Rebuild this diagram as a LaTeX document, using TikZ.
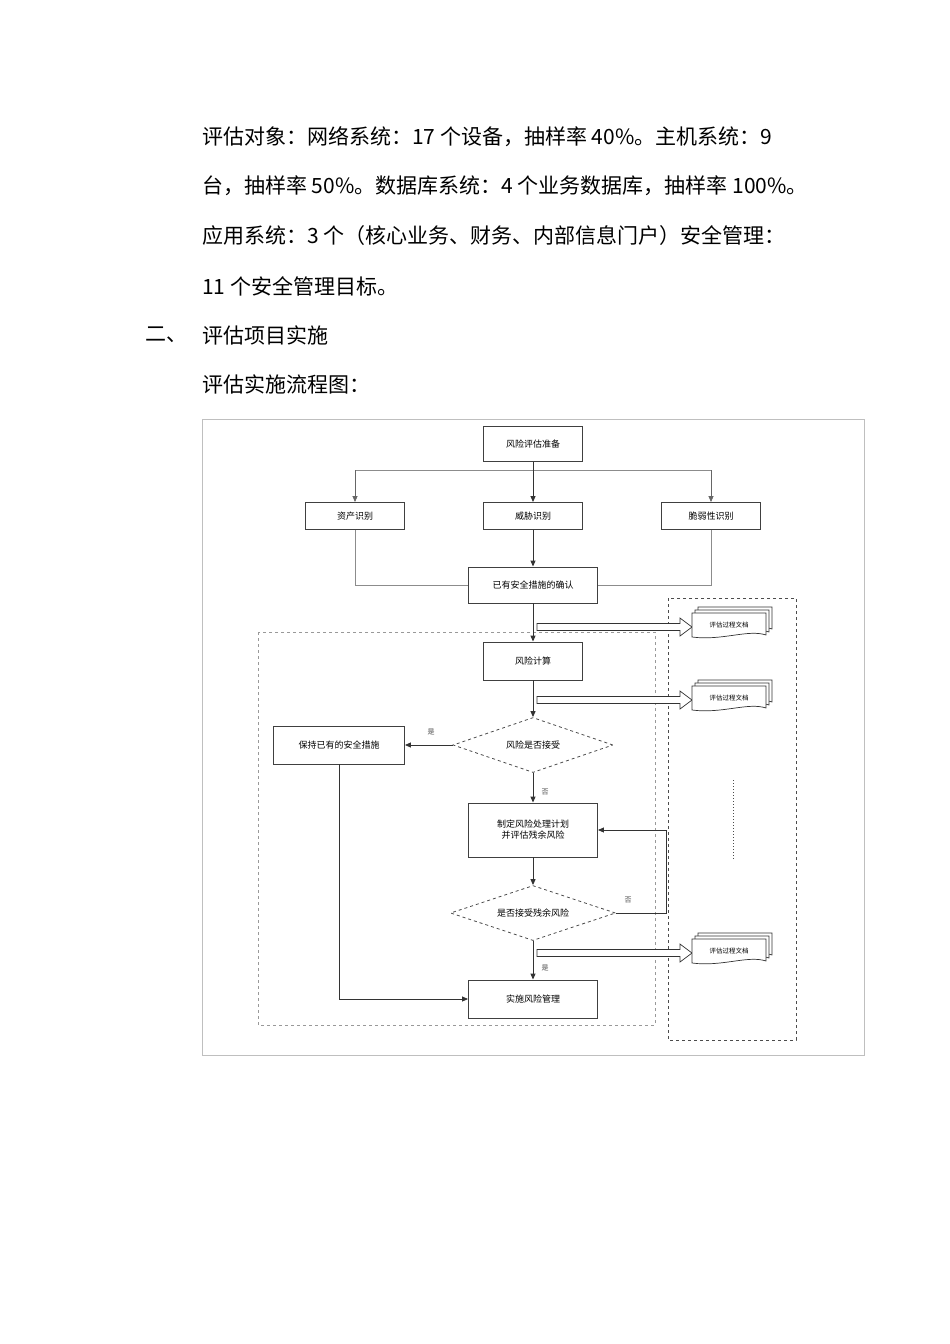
\documentclass[tikz,border=0pt]{standalone}
\usepackage{fontspec}
\setmainfont{Liberation Sans}
\newfontfamily\cjk{Noto Sans CJK SC}
\usetikzlibrary{shapes.geometric,arrows.meta}
\begin{document}
\begin{tikzpicture}[x=1pt,y=-1pt,
  box/.style={draw=black!75,line width=0.9pt,minimum width=#1,inner sep=2pt,font=\cjk\fontsize{9}{11}\selectfont,align=center},
  box/.default=99pt,
  dia/.style={draw=black!70,dashed,line width=0.8pt,diamond,aspect=3,minimum width=160pt,minimum height=55pt,inner sep=0pt,font=\cjk\fontsize{9}{11}\selectfont},
  arr/.style={-{Triangle[length=6pt,width=5pt]},draw=black!80,line width=1pt},
  thin/.style={draw=black!45,line width=0.7pt},
  lab/.style={font=\cjk\fontsize{7}{8}\selectfont,text=black!70},
  body/.style={anchor=west,inner sep=0pt,font=\cjk\fontsize{21}{24}\selectfont}]
\useasboundingbox (0,0) rectangle (950,1344);
\fill[white] (0,0) rectangle (950,1344);
\node[body] (t1) at (202,137) {评估对象：网络系统：17 个设备，抽样率 40\%。主机系统：9};
\node[body] (t2) at (202,186) {台，抽样率 50\%。数据库系统：4 个业务数据库，抽样率 100\%。};
\node[body] (t3) at (202,236) {应用系统：3 个（核心业务、财务、内部信息门户）安全管理：};
\node[body] (t4) at (202,286) {11 个安全管理目标。};
\node[body] (t5) at (145,335) {二、};
\node[body] (t6) at (202,335) {评估项目实施};
\node[body] (t7) at (202,384) {评估实施流程图：};
\draw[black!25,line width=0.8pt] (202,419) rectangle (864,1055);
\draw[black!40,dashed,line width=0.7pt] (258,632) rectangle (655,1025);
\draw[black!70,dashed,line width=0.9pt] (668,598) rectangle (796,1040);
\draw[black!70,dotted,line width=1pt] (733,780) -- (733,860);
% nodes
\node[box,minimum height=35pt] (prep) at (533,444) {风险评估准备};
\node[box,minimum height=27pt] (asset) at (355,516) {资产识别};
\node[box,minimum height=27pt] (threat) at (533,516) {威胁识别};
\node[box,minimum height=27pt] (vuln) at (711,516) {脆弱性识别};
\node[box=129pt,minimum height=36pt] (conf) at (533,585) {已有安全措施的确认};
\node[box,minimum height=38pt] (calc) at (533,661) {风险计算};
\node[dia] (d1) at (533,745) {风险是否接受};
\node[box=131pt,minimum height=38pt] (keep) at (339,745) {保持已有的安全措施};
\node[box=129pt,minimum height=54pt] (plan) at (533,830) {制定风险处理计划\\并评估残余风险};
\node[dia,minimum width=165pt] (d2) at (533,913) {是否接受残余风险};
\node[box=129pt,minimum height=38pt] (impl) at (533,999) {实施风险管理};
\coordinate (bl) at (355,470);
\coordinate (brr) at (711,470);
\draw[thin] (bl) -- (brr);
\draw[arr] (prep) -- (threat);
\draw[arr,black!60,line width=0.7pt] (bl) -- (asset);
\draw[arr,black!60,line width=0.7pt] (brr) -- (vuln);
\draw[arr] (threat) -- (conf);
\draw[thin] (asset.south) |- (conf.west);
\draw[thin] (vuln.south) |- (conf.east);
\draw[arr] (conf) -- (calc);
\draw[arr] (calc) -- (d1);
\draw[arr] (d1) -- (keep);
\node[lab] (y1) at (431,732) {是};
\draw[arr] (d1) -- (plan);
\node[lab] (n1) at (545,792) {否};
\draw[arr] (plan) -- (d2);
\draw[arr] (d2) -- (impl);
\node[lab] (y2) at (545,968) {是};
\coordinate (rb) at (666,913);
\draw[arr,line width=0.8pt] (d2.east) -- (rb) |- (plan.east);
\node[lab] (n2) at (628,900) {否};
\coordinate (kb) at (339,999);
\draw[arr,line width=0.8pt] (keep.south) -- (kb) -- (impl.west);
% hollow arrows and docs
\foreach \y/\n in {627/a,700/b,953/c}{
  \draw[black!80,line width=0.7pt,fill=white] (537,\y-3.5) -- (680,\y-3.5) -- (680,\y-9) -- (692,\y) -- (680,\y+9) -- (680,\y+3.5) -- (537,\y+3.5) -- cycle;
  \foreach \dx in {6,3,0}{
    \draw[black!80,line width=0.7pt,fill=white] (692+\dx,\y-14-\dx) -- (766+\dx,\y-14-\dx) -- (766+\dx,\y+8-\dx) .. controls (748+\dx,\y+2-\dx) and (722+\dx,\y+14-\dx) .. (692+\dx,\y+10-\dx) -- cycle;
  }
  \node[font=\cjk\fontsize{6.5}{8}\selectfont] (doc\n) at (729,\y-2) {评估过程文档};
}
\end{tikzpicture}
\end{document}
